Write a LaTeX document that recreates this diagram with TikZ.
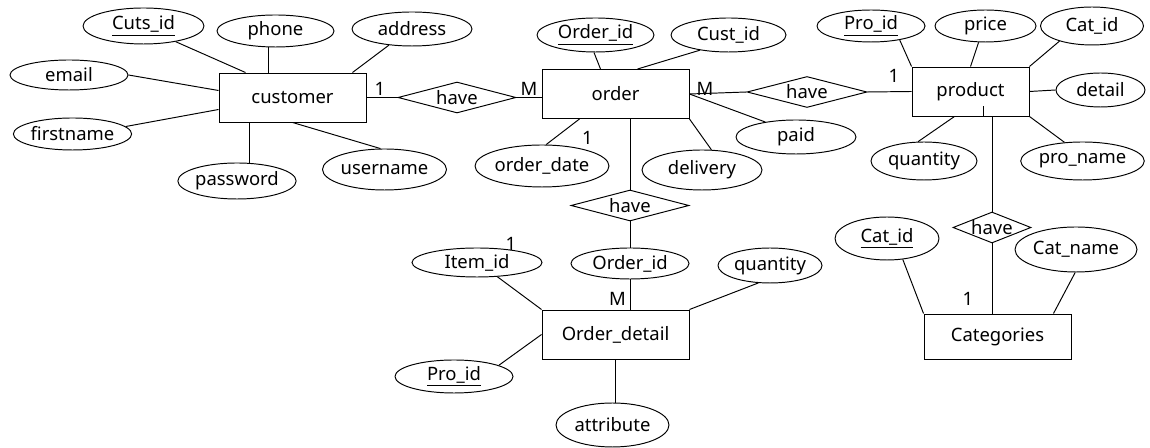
\documentclass[tikz,border=0pt]{standalone}
\usepackage{fontspec}
\setmainfont{Noto Sans}
\usetikzlibrary{shapes.geometric, calc}

\begin{document}
\begin{tikzpicture}[x=0.02cm, y=-0.02cm, line width=.55pt,
	entitybox/.style={rectangle, draw, minimum width=2.94cm, minimum height=0.98cm, align=center},
	attrib/.style={ellipse, draw, inner sep=0pt, minimum width=2.36cm, minimum height=0.68cm},
	relbox/.style={diamond, draw, shape aspect=2.5, inner sep=0pt, minimum width=2.36cm, minimum height=0.62cm},
	card/.style={inner sep=0pt},
	every node/.style={font=\fontsize{10.5}{12}\selectfont}
	]
	\useasboundingbox (0,0) rectangle (1150,448);
	\node[entitybox] (customer) at (292.5,97.5) {customer};
	\node[entitybox] (order) at (615.5,94) {order};
	\node[entitybox, minimum width=2.34cm] (product) at (970.5,91.5) {product};
	\node[entitybox] (orderdetail) at (615.5,334.5) {Order\_detail};
	\node[entitybox, minimum height=0.9cm] (categories) at (997.5,336.5) {Categories};
	\node[relbox] (have1) at (457,97.5) {have};
	\node[relbox, minimum width=2.4cm] (have2) at (807,92) {have};
	\node[relbox] (have3) at (630,205.5) {have};
	\node[relbox, minimum width=1.56cm] (have4) at (992,227.5) {have};
	\node[attrib, minimum width=2.42cm, minimum height=0.72cm] (cutsid) at (143.5,26) {\underline{Cuts\_id}};
	\node[attrib, minimum width=2.34cm, minimum height=0.64cm] (phone) at (275.5,31) {phone};
	\node[attrib, minimum width=2.4cm] (address) at (412,29) {address};
	\node[attrib, minimum height=0.6cm] (email) at (69,75) {email};
	\node[attrib, minimum width=2.34cm, minimum height=0.64cm] (firstname) at (72.5,134) {firstname};
	\node[attrib, minimum height=0.72cm] (password) at (237,181) {password};
	\node[attrib, minimum width=2.42cm, minimum height=0.82cm] (username) at (384.5,169.5) {username};
	\node[attrib, minimum width=2.34cm] (orderid) at (595.5,35) {\underline{Order\_id}};
	\node[attrib, minimum width=2.3cm] (custid) at (728.5,35) {Cust\_id};
	\node[attrib, minimum height=0.84cm] (orderdate) at (542,166) {order\_date};
	\node[attrib, minimum width=2.4cm, minimum height=0.8cm] (delivery) at (702,170) {delivery};
	\node[attrib, minimum width=2.4cm] (paid) at (796,137) {paid};
	\node[attrib, minimum width=2.16cm, minimum height=0.64cm] (proid) at (871,26) {\underline{Pro\_id}};
	\node[attrib, minimum width=2.02cm, minimum height=0.64cm] (price) at (985.5,26) {price};
	\node[attrib, minimum width=2.06cm, minimum height=0.76cm] (catid) at (1092,26) {Cat\_id};
	\node[attrib, minimum width=1.78cm] (detail) at (1100.5,90) {detail};
	\node[attrib, minimum width=2.12cm, minimum height=0.76cm] (quantity) at (924,161) {quantity};
	\node[attrib, minimum width=2.22cm, minimum height=0.76cm] (proname) at (1082.5,161) {pro\_name};
	\node[attrib, minimum width=2.08cm, minimum height=0.86cm] (catid2) at (887,238.5) {\underline{Cat\_id}};
	\node[attrib, minimum width=2.12cm, minimum height=0.9cm] (catname) at (1076,249.5) {Cat\_name};
	\node[attrib, minimum width=2.6cm, minimum height=0.58cm] (itemid) at (477,262.5) {Item\_id};
	\node[attrib, minimum height=0.62cm] (orderid2) at (630,263.5) {Order\_id};
	\node[attrib, minimum width=2.08cm, minimum height=0.7cm] (quantity2) at (770,265.5) {quantity};
	\node[attrib, minimum height=0.66cm] (proid2) at (454,376.5) {\underline{Pro\_id}};
	\node[attrib, minimum width=2.26cm, minimum height=0.88cm] (attribute) at (612.5,425) {attribute};
	\node[card] (c1) at (380,89) {1};
	\node[card] (c2) at (529,89) {M};
	\node[card] (c3) at (705,89) {M};
	\node[card] (c4) at (894,76) {1};
	\node[card] (c5) at (587.5,138) {1};
	\node[card] (c6) at (968,298.5) {1};
	\node[card] (c7) at (617.5,298.5) {M};
	\node[card] (c8) at (511,244) {1};
	\draw (cutsid.334) -- ($(customer.north)+(-47,0)$);
	\draw (phone.248) -- (phone.248 |- customer.north);
	\draw (address.215) -- ($(customer.north east)+(-14,0)$);
	\draw (email.east) -- ($(customer.west)+(0,-7)$);
	\draw (firstname.8) -- ($(customer.west)+(0,12)$);
	\draw (password.56) -- (password.56 |- customer.south);
	\draw (username.101) -- (customer.south);
	\draw (customer.east) -- (have1.west);
	\draw (have1.east) -- (have1.east -| order.west);
	\draw (orderid.265) -- ($(order.north)+(-15,0)$);
	\draw (custid.208) -- ($(order.north)+(22,0)$);
	\draw (orderdate.79) -- ($(order.south)+(-36,0)$);
	\draw (delivery.65) -- (order.south east);
	\draw (paid.154) -- (order.east);
	\draw (order.east) -- (have2.west);
	\draw (have2.east) -- (product.west);
	\draw (have3.north |- order.south) -- (have3.north);
	\draw (have3.south) -- (orderid2.north);
	\draw (orderid2.south) -- (orderid2.south |- orderdetail.north);
	\draw (proid.334) -- (product.north west);
	\draw (price.247) -- (product.north);
	\draw (catid.205) -- (product.north east);
	\draw (product.east) -- (detail.west);
	\draw (quantity.107) -- ($(product.south)+(-16,0)$);
	\draw (proname.134) -- (product.south east);
	\draw ($(product.south)+(12.5,-10)$) |- (have4.north |- product.south) -- (have4.north);
	\draw (have4.south) -- (have4.south |- categories.north);
	\draw (catid2.307) -- (categories.north west);
	\draw (catname.268) -- ($(categories.north east)+(-18,0)$);
	\draw (itemid.325) -- (orderdetail.north west);
	\draw (quantity2.236) -- (orderdetail.north east);
	\draw (proid2.14) -- (orderdetail.west);
	\draw (orderdetail.south) -- (orderdetail.south |- attribute.north);
\end{tikzpicture}
\end{document}
